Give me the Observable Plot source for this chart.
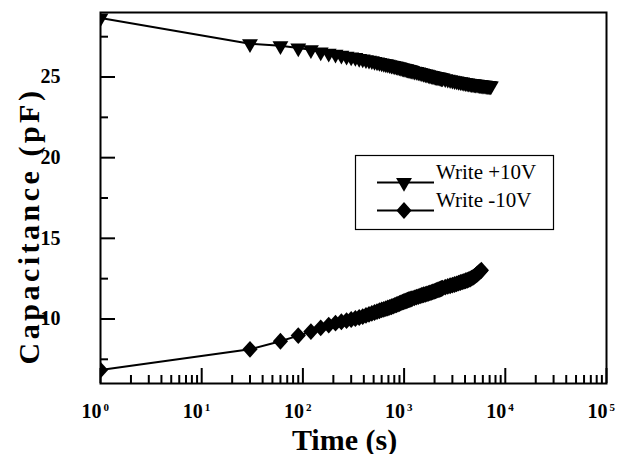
<!DOCTYPE html>
<html>
<head>
<meta charset="utf-8">
<script src="https://cdn.jsdelivr.net/npm/d3@7"></script>
<script src="https://cdn.jsdelivr.net/npm/@observablehq/plot@0.6"></script>
<style>
  html, body { margin: 0; padding: 0; background: #fff; }
  #wrap { position: relative; width: 620px; height: 454px; }
  #legend { position: absolute; left: 0; top: 0; }
</style>
</head>
<body>
<div id="wrap"></div>
<script>
// ---- data ----
const timesUp = [1,
  30, 60, 90, 120, 150, 180, 210, 240, 270, 300, 330, 360, 390, 420, 450, 480, 510, 540, 570, 600,
  630, 660, 690, 720, 750, 780, 810, 840, 870, 900, 930, 960, 990, 1020, 1050, 1080, 1110, 1140, 1170, 1200,
  1260, 1320, 1380, 1440, 1500, 1560, 1620, 1680, 1740, 1800, 1860, 1920, 1980, 2040, 2100, 2160, 2220, 2280, 2340, 2400,
  2550, 2700, 2850, 3000, 3150, 3300, 3450, 3600, 3750, 3900, 4050, 4200, 4350, 4500, 4650, 4800,
  4950, 5100, 5250, 5400, 5550, 5700, 5850, 6000, 6150, 6300, 6450, 6600, 6750, 6900, 7050, 7200];
const capUp = [28.66,
  27.06, 26.94, 26.80, 26.69, 26.55, 26.47, 26.40, 26.34, 26.29, 26.24, 26.20, 26.15, 26.11, 26.07, 26.03, 26.00, 25.96, 25.93, 25.90, 25.87,
  25.84, 25.81, 25.78, 25.76, 25.73, 25.71, 25.68, 25.66, 25.63, 25.61, 25.58, 25.56, 25.54, 25.52, 25.50, 25.48, 25.46, 25.44, 25.42, 25.40,
  25.36, 25.33, 25.30, 25.27, 25.24, 25.21, 25.18, 25.16, 25.13, 25.11, 25.09, 25.07, 25.05, 25.03, 25.01, 25.00, 24.98, 24.96, 24.94, 24.93,
  24.89, 24.86, 24.83, 24.80, 24.77, 24.75, 24.72, 24.70, 24.68, 24.66, 24.64, 24.62, 24.61, 24.60, 24.58, 24.57,
  24.56, 24.55, 24.54, 24.53, 24.52, 24.51, 24.50, 24.49, 24.485, 24.48, 24.47, 24.46, 24.455, 24.45, 24.445, 24.44];

const timesDown = [1,
  30, 60, 90, 120, 150, 180, 210, 240, 270, 300, 330, 360, 390, 420, 450, 480, 510, 540, 570, 600,
  630, 660, 690, 720, 750, 780, 810, 840, 870, 900, 930, 960, 990, 1020, 1050, 1080, 1110, 1140, 1170, 1200,
  1260, 1320, 1380, 1440, 1500, 1560, 1620, 1680, 1740, 1800, 1860, 1920, 1980, 2040, 2100, 2160, 2220, 2280, 2340, 2400,
  2550, 2700, 2850, 3000, 3150, 3300, 3450, 3600, 3750, 3900, 4050, 4200, 4350, 4500, 4650, 4800,
  4950, 5100, 5250, 5400, 5550, 5700, 5800];
const capDown = [6.83,
  8.12, 8.62, 8.97, 9.22, 9.45, 9.62, 9.74, 9.83, 9.90, 9.97, 10.03, 10.09, 10.15, 10.22, 10.29, 10.35, 10.40, 10.46, 10.51, 10.56,
  10.60, 10.64, 10.68, 10.72, 10.76, 10.80, 10.84, 10.88, 10.92, 10.96, 11.00, 11.04, 11.07, 11.10, 11.13, 11.16, 11.19, 11.21, 11.24, 11.26,
  11.31, 11.35, 11.39, 11.43, 11.47, 11.50, 11.53, 11.56, 11.59, 11.62, 11.65, 11.68, 11.71, 11.74, 11.77, 11.80, 11.83, 11.86, 11.89, 11.91,
  11.97, 12.02, 12.06, 12.10, 12.14, 12.18, 12.22, 12.26, 12.30, 12.33, 12.37, 12.40, 12.44, 12.48, 12.53, 12.58,
  12.64, 12.70, 12.77, 12.84, 12.91, 12.97, 13.02];

const seriesNames = ["Write +10V", "Write -10V"];
const xMajor = [1, 10, 100, 1000, 10000, 100000];
const xExponents = ["0", "1", "2", "3", "4", "5"];
const xMinor = [2,3,4,5,6,7,8,9,20,30,40,50,60,70,80,90,200,300,400,500,600,700,800,900,
  2000,3000,4000,5000,6000,7000,8000,9000,20000,30000,40000,50000,60000,70000,80000,90000];
const yMajor = [10, 15, 20, 25];
const yMinor = [7.5, 12.5, 17.5, 22.5, 27.5];
const xTitle = "Time (s)";
const yTitle = "Capacitance (pF)";

const up = timesUp.map((t, i) => ({t, c: capUp[i]}));
const down = timesDown.map((t, i) => ({t, c: capDown[i]}));

// custom symbols
const triDown = {
  draw(ctx, size) {
    const a = Math.sqrt(4 * size / Math.sqrt(3));
    const h = a * Math.sqrt(3) / 2;
    ctx.moveTo(-a / 2, -h / 3);
    ctx.lineTo(a / 2, -h / 3);
    ctx.lineTo(0, 2 * h / 3);
    ctx.closePath();
  }
};
const diamond = {
  draw(ctx, size) {
    const d = Math.sqrt(size / 2);
    ctx.moveTo(0, -d * 1.05);
    ctx.lineTo(d * 0.95, 0);
    ctx.lineTo(0, d * 1.05);
    ctx.lineTo(-d * 0.95, 0);
    ctx.closePath();
  }
};
const rTri = 5.9, rDia = 6.4;

const W = 620, H = 454, mL = 100, mR = 14, mT = 12, mB = 71;
const pw = W - mL - mR, ph = H - mT - mB;
const serif = "'Liberation Serif', 'Times New Roman', serif";

const chart = Plot.plot({
  width: W, height: H,
  marginLeft: mL, marginRight: mR, marginTop: mT, marginBottom: mB,
  style: {fontFamily: serif, background: "white", color: "black", overflow: "visible"},
  x: {type: "log", domain: [1, 1e5], axis: null},
  y: {domain: [6, 29], axis: null},
  marks: [
    // ticks (inward)
    Plot.tickX(xMajor, {x: d => d, stroke: "black", strokeWidth: 2, insetTop: ph - 15}),
    Plot.tickX(xMinor, {x: d => d, stroke: "black", strokeWidth: 2, insetTop: ph - 8}),
    Plot.tickY(yMajor, {y: d => d, stroke: "black", strokeWidth: 2, insetRight: pw - 15}),
    Plot.tickY(yMinor, {y: d => d, stroke: "black", strokeWidth: 2, insetRight: pw - 8}),
    // tick labels
    Plot.text(yMajor, {y: d => d, text: d => String(d), frameAnchor: "left", textAnchor: "end", dx: -40,
      fontSize: 20, fontWeight: "bold"}),
    Plot.text(xMajor, {x: d => d, text: () => "10", frameAnchor: "bottom", textAnchor: "end", lineAnchor: "bottom",
      dx: 1, dy: 34, fontSize: 20, fontWeight: "bold"}),
    Plot.text(xMajor, {x: d => d, text: (d, i) => xExponents[i], frameAnchor: "bottom", textAnchor: "start", lineAnchor: "bottom",
      dx: 3, dy: 27, fontSize: 11, fontWeight: "bold"}),
    // titles
    Plot.text([xTitle], {text: d => d, frameAnchor: "bottom", textAnchor: "middle", lineAnchor: "bottom", dx: -9, dy: 66,
      fontSize: 30, fontWeight: "bold"}),
    Plot.text([yTitle], {text: d => d, frameAnchor: "left", textAnchor: "middle", lineAnchor: "middle", rotate: -90, dx: -71, dy: 28,
      fontSize: 30, fontWeight: "bold"}),
    // data
    Plot.line(up, {x: "t", y: "c", stroke: "black", strokeWidth: 2, clip: true}),
    Plot.dot(up, {x: "t", y: "c", symbol: triDown, r: rTri, fill: "black", stroke: "none", clip: true}),
    Plot.line(down, {x: "t", y: "c", stroke: "black", strokeWidth: 2, clip: true}),
    Plot.dot(down, {x: "t", y: "c", symbol: diamond, r: rDia, fill: "black", stroke: "none", clip: true}),
    Plot.frame({stroke: "black", strokeWidth: 2})
  ]
});

d3.select(chart).selectAll("text").filter(function() { return this.textContent === yTitle; })
  .style("letter-spacing", "3.5px");

const wrap = document.getElementById("wrap");
wrap.appendChild(chart);

// legend (boxed, inside plot area)
const lg = d3.select(wrap).append("svg").attr("id", "legend")
  .attr("width", W).attr("height", H)
  .style("pointer-events", "none");
const bx = 355.5, by = 155.5, bw = 198, bh = 74;
lg.append("rect").attr("x", bx).attr("y", by).attr("width", bw).attr("height", bh)
  .attr("fill", "white").attr("stroke", "black").attr("stroke-width", 1.2);
const rows = [
  {name: seriesNames[0], sym: triDown, r: rTri, y: 182.5},
  {name: seriesNames[1], sym: diamond, r: rDia, y: 210.5}
];
rows.forEach(row => {
  lg.append("line").attr("x1", 377).attr("x2", 434).attr("y1", row.y).attr("y2", row.y)
    .attr("stroke", "black").attr("stroke-width", 2);
  lg.append("path").attr("transform", `translate(404,${row.y})`)
    .attr("d", d3.symbol(row.sym, Math.PI * row.r * row.r)()).attr("fill", "black");
  lg.append("text").attr("x", 436).attr("y", row.y - 4)
    .attr("font-family", serif).attr("font-size", 21).attr("fill", "black")
    .text(row.name);
});
</script>
</body>
</html>
